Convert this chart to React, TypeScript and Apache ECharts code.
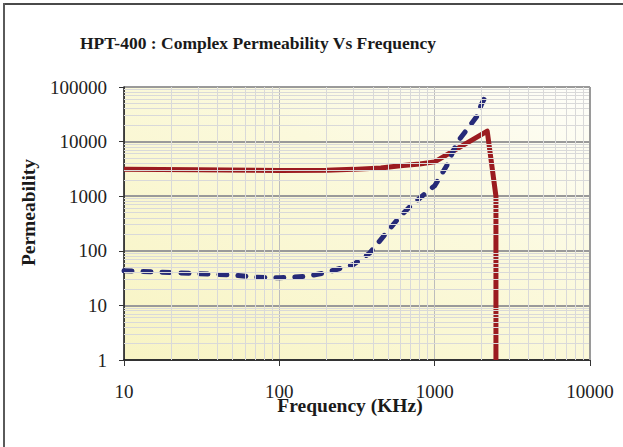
import React, { useEffect, useRef } from "react";
import * as echarts from "echarts";

const TITLE = "HPT-400 : Complex Permeability Vs Frequency";
const X_NAME = "Frequency (KHz)";
const Y_NAME = "Permeability";

// Real part (solid red): [frequency kHz, permeability]
const muReal: [number, number][] = [
  [10, 3100], [30, 3050], [70, 3000], [100, 2970], [200, 3000], [300, 3100],
  [450, 3300], [600, 3600], [800, 3900], [1000, 4250], [2180, 15500],
  [2480, 1000], [2480, 1],
];

// Imaginary part (dashed blue)
const muImag: [number, number][] = [
  [10, 43], [20, 40], [30, 38], [50, 36], [70, 33], [100, 32], [150, 34],
  [200, 40], [300, 56], [380, 90], [490, 215], [600, 430], [700, 660],
  [930, 1330], [1000, 1550], [1200, 3700], [1390, 9500], [1870, 29000],
  [2000, 48000], [2180, 78000],
];

const xMinorTicks = [20, 30, 40, 50, 60, 70, 80, 90, 200, 300, 400, 500, 600, 700, 800, 900, 2000, 3000, 4000, 5000, 6000, 7000, 8000, 9000];
const yMinorTicks: number[] = [];
[1, 10, 100, 1000, 10000].forEach((d) => {
  for (let k = 2; k <= 9; k++) yMinorTicks.push(d * k);
});

const FONT = "'Liberation Serif', 'DejaVu Serif', serif";

export default function App() {
  const ref = useRef<HTMLDivElement>(null);
  useEffect(() => {
    if (!ref.current) return;
    const chart = echarts.init(ref.current, null, { renderer: "svg" });
    chart.setOption({
      animation: false,
      backgroundColor: "#ffffff",
      title: {
        text: TITLE,
        left: 75,
        top: 29,
        textStyle: { fontFamily: FONT, fontSize: 17.5, fontWeight: "bold", color: "#1a1a1a" },
      },
      graphic: [
        { type: "line", shape: { x1: 3, y1: 4, x2: 623, y2: 4 }, style: { stroke: "#4a4a4a", lineWidth: 2 } },
        { type: "line", shape: { x1: 4, y1: 3, x2: 4, y2: 447 }, style: { stroke: "#5a5a5a", lineWidth: 2 } },
      ],
      grid: {
        left: 124,
        right: 33,
        top: 87,
        bottom: 87,
        show: true,
        borderWidth: 0,
        backgroundColor: new echarts.graphic.LinearGradient(0, 1, 1, 0, [
          { offset: 0, color: "#f8f4c4" },
          { offset: 0.6, color: "#fbf9dc" },
          { offset: 1, color: "#fefefa" },
        ]),
      },
      xAxis: {
        type: "log",
        logBase: 10,
        min: 10,
        max: 10000,
        name: X_NAME,
        nameLocation: "middle",
        nameGap: 35,
        nameMoveOverlap: false,
        nameTextStyle: { fontFamily: FONT, fontSize: 19.5, fontWeight: "bold", color: "#1a1a1a", padding: [0, 14, 0, 0] },
        axisLine: { lineStyle: { color: "#111", width: 1.5 } },
        axisTick: { show: true, length: 6, lineStyle: { color: "#333" } },
        axisLabel: {
          fontFamily: FONT, fontSize: 19, color: "#222", margin: 22,
          formatter: (v: number) => String(Math.round(v)),
        },
        splitLine: { show: true, lineStyle: { color: "#bdbdbd", width: 1 } },
      },
      yAxis: {
        type: "log",
        logBase: 10,
        min: 1,
        max: 100000,
        name: Y_NAME,
        nameLocation: "middle",
        nameGap: 86,
        nameMoveOverlap: false,
        nameTextStyle: { fontFamily: FONT, fontSize: 19.5, fontWeight: "bold", color: "#1a1a1a", padding: [0, 0, 0, 22] },
        axisLine: { lineStyle: { color: "#111", width: 1.5 } },
        axisTick: { show: true, length: 5, lineStyle: { color: "#333" } },
        axisLabel: {
          fontFamily: FONT, fontSize: 19, color: "#222", margin: 17,
          formatter: (v: number) => String(Math.round(v)),
        },
        splitLine: { show: true, lineStyle: { color: "#9a9a9a", width: 2 } },
      },
      series: [
        {
          type: "line",
          name: "grid",
          data: [[10, 1]],
          showSymbol: false,
          silent: true,
          z: 1,
          lineStyle: { opacity: 0 },
          markLine: {
            silent: true,
            symbol: ["none", "none"],
            label: { show: false },
            animation: false,
            lineStyle: { color: "#d9d9d9", width: 1, type: "solid" },
            data: [
              ...xMinorTicks.map((v) => ({ xAxis: v })),
              ...yMinorTicks.map((v) => ({ yAxis: v })),
              { xAxis: 10000, lineStyle: { color: "#9a9a9a", width: 2 } },
            ],
          },
        },
        {
          type: "line",
          name: "mu'",
          data: muReal,
          showSymbol: false,
          z: 3,
          lineStyle: { color: "#9b1b20", width: 5, join: "round" },
        },
        {
          type: "line",
          name: "mu''",
          data: muImag,
          showSymbol: false,
          smooth: false,
          z: 4,
          lineStyle: { color: "#262a78", width: 5, type: [8, 11], cap: "round", join: "round" },
        },
      ],
    });
    return () => chart.dispose();
  }, []);
  return (
    <div
      ref={ref}
      style={{ position: "absolute", left: 0, top: 0, width: 623, height: 447 }}
    />
  );
}
